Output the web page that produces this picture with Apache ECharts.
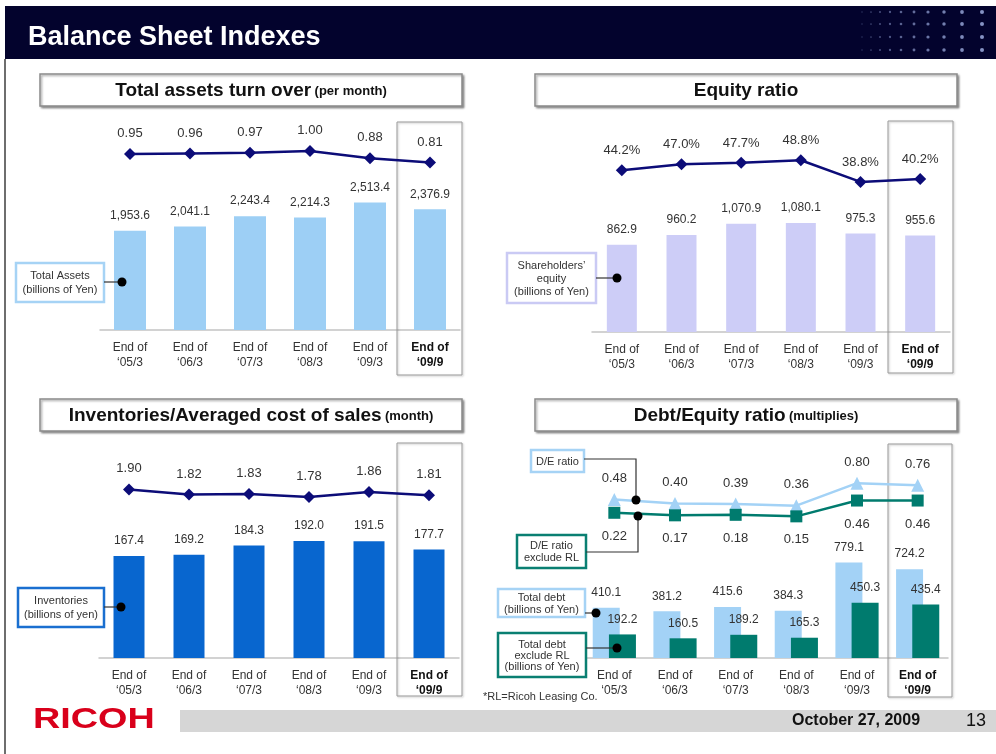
<!DOCTYPE html>
<html><head><meta charset="utf-8">
<script src="https://cdn.jsdelivr.net/npm/echarts@6/dist/echarts.min.js"></script>
<style>html,body{margin:0;padding:0;background:#fff}#c{width:996px;height:754px}</style>
</head><body><div id="c"></div>
<script>
// ---------- data ----------
const categories = ["End of\n‘05/3", "End of\n‘06/3", "End of\n‘07/3", "End of\n‘08/3", "End of\n‘09/3", "End of\n‘09/9"];
const totalAssets = [1953.6, 2041.1, 2243.4, 2214.3, 2513.4, 2376.9];
const assetTurnover = [0.95, 0.96, 0.97, 1.00, 0.88, 0.81];
const shareholdersEquity = [862.9, 960.2, 1070.9, 1080.1, 975.3, 955.6];
const equityRatio = [44.2, 47.0, 47.7, 48.8, 38.8, 40.2];
const inventories = [167.4, 169.2, 184.3, 192.0, 191.5, 177.7];
const inventoryMonths = [1.90, 1.82, 1.83, 1.78, 1.86, 1.81];
const totalDebt = [410.1, 381.2, 415.6, 384.3, 779.1, 724.2];
const totalDebtExRL = [192.2, 160.5, 189.2, 165.3, 450.3, 435.4];
const deRatio = [0.48, 0.40, 0.39, 0.36, 0.80, 0.76];
const deRatioExRL = [0.22, 0.17, 0.18, 0.15, 0.46, 0.46];

// ---------- helpers ----------
const FONT = "'Liberation Sans', Arial, sans-serif";
const NAVY = '#0c0c78';
const fmt1 = p => p.value.toLocaleString('en-US', {minimumFractionDigits: 1, maximumFractionDigits: 1});
const fmt2 = p => p.value.toFixed(2);
const fmtPct = p => p.value.toFixed(1) + '%';

const grids = [
  {left: 100, top: 127, width: 360, height: 203},
  {left: 100, top: 90,  width: 360, height: 122},
  {left: 592, top: 130, width: 358, height: 202},
  {left: 592, top: 136, width: 358, height: 130},
  {left: 99,  top: 475, width: 360, height: 183},
  {left: 99,  top: 419, width: 360, height: 192},
  {left: 584, top: 474, width: 364, height: 184},
  {left: 584, top: 473, width: 364, height: 51}
];
const yRanges = [[0, 4000], [0, 2], [0, 2000], [0, 60], [0, 300], [0, 3], [0, 1500], [0, 1]];

const xAxes = grids.map((g, i) => ({
  type: 'category', gridIndex: i, data: categories, show: i % 2 === 0,
  axisLine: {show: true, lineStyle: {color: '#c4c4c4', width: 1.5}},
  axisTick: {show: false},
  axisLabel: {
    interval: 0, margin: 10, fontFamily: FONT,
    formatter: (v, idx) => { const t = idx === 5 ? 'b' : 'n'; return v.split('\n').map(s => '{' + t + '|' + s + '}').join('\n'); },
    rich: {
      n: {fontSize: 12, color: '#333', lineHeight: 15, fontFamily: FONT},
      b: {fontSize: 12, color: '#111', fontWeight: 'bold', lineHeight: 15, fontFamily: FONT}
    }
  }
}));
const yAxes = grids.map((g, i) => ({
  type: 'value', gridIndex: i, show: false, min: yRanges[i][0], max: yRanges[i][1], splitLine: {show: false}
}));

const barLabel = (f) => ({show: true, position: 'top', distance: 9, formatter: f, fontSize: 12, color: '#333', fontFamily: FONT});
const lineLabel = (f, pos, d) => ({show: true, position: pos || 'top', distance: d, formatter: f, fontSize: 13, color: '#333', fontFamily: FONT});

const series = [
  {type: 'bar', xAxisIndex: 0, yAxisIndex: 0, data: totalAssets, barWidth: 32, itemStyle: {color: '#9dcff5'}, label: barLabel(fmt1)},
  {type: 'line', xAxisIndex: 1, yAxisIndex: 1, data: assetTurnover, symbol: 'diamond', symbolSize: 12, lineStyle: {color: NAVY, width: 2.5}, itemStyle: {color: NAVY}, label: lineLabel(fmt2, 'top', 8)},
  {type: 'bar', xAxisIndex: 2, yAxisIndex: 2, data: shareholdersEquity, barWidth: 30, itemStyle: {color: '#cdcdf7'}, label: barLabel(fmt1)},
  {type: 'line', xAxisIndex: 3, yAxisIndex: 3, data: equityRatio, symbol: 'diamond', symbolSize: 12, lineStyle: {color: NAVY, width: 2.5}, itemStyle: {color: NAVY}, label: lineLabel(fmtPct, 'top', 7)},
  {type: 'bar', xAxisIndex: 4, yAxisIndex: 4, data: inventories, barWidth: 31, itemStyle: {color: '#0866cf'}, label: barLabel(fmt1)},
  {type: 'line', xAxisIndex: 5, yAxisIndex: 5, data: inventoryMonths, symbol: 'diamond', symbolSize: 12, lineStyle: {color: NAVY, width: 2.5}, itemStyle: {color: NAVY}, label: lineLabel(fmt2, 'top', 8)},
  {type: 'bar', xAxisIndex: 6, yAxisIndex: 6, data: totalDebt, barWidth: 27, barGap: '-40%', itemStyle: {color: '#a3d2f6'}, label: barLabel(fmt1)},
  {type: 'bar', xAxisIndex: 6, yAxisIndex: 6, data: totalDebtExRL, barWidth: 27, barGap: '-40%', itemStyle: {color: '#007b6e'}, label: barLabel(fmt1)},
  {type: 'line', xAxisIndex: 7, yAxisIndex: 7, data: deRatio, symbol: 'triangle', symbolSize: 13, lineStyle: {color: '#a3d2f6', width: 2.5}, itemStyle: {color: '#a3d2f6'}, label: lineLabel(fmt2, 'top', 8)},
  {type: 'line', xAxisIndex: 7, yAxisIndex: 7, data: deRatioExRL, symbol: 'rect', symbolSize: 12, lineStyle: {color: '#007b6e', width: 2.5}, itemStyle: {color: '#007b6e'}, label: lineLabel(fmt2, 'bottom', 11)}
];

// ---------- decorations ----------
const g = [];
// header
g.push({type: 'rect', shape: {x: 5, y: 6, width: 991, height: 53}, style: {fill: '#03032d'}, z: 1});
g.push({type: 'text', x: 28, y: 38, style: {text: 'Balance Sheet Indexes', fill: '#fff', fontSize: 27, fontWeight: 'bold', fontFamily: FONT, verticalAlign: 'middle'}, z: 2});
const dotCols = [862, 871, 880, 890, 901, 914, 928, 944, 962, 982];
const dotRows = [12, 24, 37, 50];
dotRows.forEach(yy => dotCols.forEach((xx, k) => {
  g.push({type: 'circle', shape: {cx: xx, cy: yy, r: 0.7 + k * 0.15}, style: {fill: 'rgba(150,165,215,' + (0.35 + k * 0.06) + ')'}, z: 2});
}));
// left border
g.push({type: 'line', shape: {x1: 5, y1: 59, x2: 5, y2: 754}, style: {stroke: '#6e6e6e', lineWidth: 2}, z: 1});

// title boxes
function titleBox(x, y, w, h, main, sub) {
  g.push({type: 'rect', shape: {x, y, width: w, height: h}, style: {fill: '#fff', stroke: '#8a8a8a', lineWidth: 1.5, shadowBlur: 2, shadowOffsetX: 1.5, shadowOffsetY: 1.5, shadowColor: 'rgba(0,0,0,0.35)'}, z: 1});
  const txt = sub ? '{a|' + main + '} {b|' + sub + '}' : '{a|' + main + '}';
  g.push({type: 'text', x: x + w / 2, y: y + h / 2 + 1, style: {text: txt, align: 'center', verticalAlign: 'middle', fill: '#111',
    rich: {a: {fontSize: 19, fontWeight: 'bold', fontFamily: FONT, fill: '#111'}, b: {fontSize: 13, fontWeight: 'bold', fontFamily: FONT, fill: '#111'}}}, z: 2});
}
titleBox(40, 74, 422, 32, 'Total assets turn over', '(per month)');
titleBox(535, 74, 422, 32, 'Equity ratio');
titleBox(40, 399, 422, 32, 'Inventories/Averaged cost of sales', '(month)');
titleBox(535, 399, 422, 32, 'Debt/Equity ratio', '(multiplies)');

// highlight boxes
function hiBox(x, y, w, h) {
  g.push({type: 'rect', shape: {x, y, width: w, height: h}, style: {fill: null, stroke: '#9a9a9a', lineWidth: 1, shadowBlur: 2, shadowOffsetX: 1, shadowOffsetY: 1, shadowColor: 'rgba(0,0,0,0.25)'}, z: 3});
}
hiBox(397, 122, 65, 253);
hiBox(888, 121, 65, 252);
hiBox(397, 443, 65, 253);
hiBox(888, 444, 64, 253);

// legend callouts
function callout(x, y, w, h, color, text, lh, pts) {
  g.push({type: 'rect', shape: {x, y, width: w, height: h}, style: {fill: '#fff', stroke: color, lineWidth: 2.5}, z: 5});
  g.push({type: 'text', x: x + w / 2, y: y + h / 2 + 0.5, style: {text, align: 'center', verticalAlign: 'middle', fontSize: 11, lineHeight: lh, fontFamily: FONT, fill: '#333'}, z: 6});
  g.push({type: 'polyline', shape: {points: pts}, style: {stroke: '#333', lineWidth: 1.2, fill: null}, z: 5});
  const end = pts[pts.length - 1];
  g.push({type: 'circle', shape: {cx: end[0], cy: end[1], r: 4.5}, style: {fill: '#000'}, z: 6});
}
callout(16, 263, 88, 39, '#a6d3f5', 'Total Assets\n(billions of Yen)', 14, [[104, 282], [122, 282]]);
callout(507, 253, 89, 50, '#cacaf4', 'Shareholders’\nequity\n(billions of Yen)', 13, [[596, 278], [617, 278]]);
callout(18, 588, 86, 39, '#1a6fd0', 'Inventories\n(billions of yen)', 14, [[104, 607], [121, 607]]);
callout(531, 450, 53, 22, '#a6d3f5', 'D/E ratio', 12, [[584, 459], [636, 459], [636, 500]]);
callout(517, 535, 69, 33, '#0a7f72', 'D/E ratio\nexclude RL', 11.5, [[586, 552], [638, 552], [638, 516]]);
callout(498, 589, 87, 28, '#a6d3f5', 'Total debt\n(billions of Yen)', 12, [[585, 613], [596, 613]]);
callout(498, 633, 88, 44, '#0a7f72', 'Total debt\nexclude RL\n(billions of Yen)', 11, [[586, 648], [617, 648]]);

g.push({type: 'text', x: 483, y: 697, style: {text: '*RL=Ricoh Leasing Co.', fontSize: 11, fontFamily: FONT, fill: '#333', verticalAlign: 'middle'}, z: 5});

// footer
g.push({type: 'rect', shape: {x: 180, y: 710, width: 816, height: 22}, style: {fill: '#d6d6d6'}, z: 1});
g.push({type: 'text', x: 33, y: 720, scaleX: 1.26, style: {text: 'RICOH', fill: '#d9001b', fontSize: 30, fontWeight: 'bold', fontFamily: FONT, verticalAlign: 'middle'}, z: 2});
g.push({type: 'text', x: 856, y: 721, style: {text: 'October 27, 2009', fill: '#111', fontSize: 16, fontWeight: 'bold', fontFamily: FONT, align: 'center', verticalAlign: 'middle'}, z: 2});
g.push({type: 'text', x: 976, y: 721, style: {text: '13', fill: '#111', fontSize: 18, fontFamily: FONT, align: 'center', verticalAlign: 'middle'}, z: 2});

const chart = echarts.init(document.getElementById('c'), null, {renderer: 'canvas'});
chart.setOption({
  animation: false,
  backgroundColor: '#fff',
  textStyle: {fontFamily: FONT},
  grid: grids,
  xAxis: xAxes,
  yAxis: yAxes,
  series,
  graphic: {elements: g}
});
</script>
</body></html>
